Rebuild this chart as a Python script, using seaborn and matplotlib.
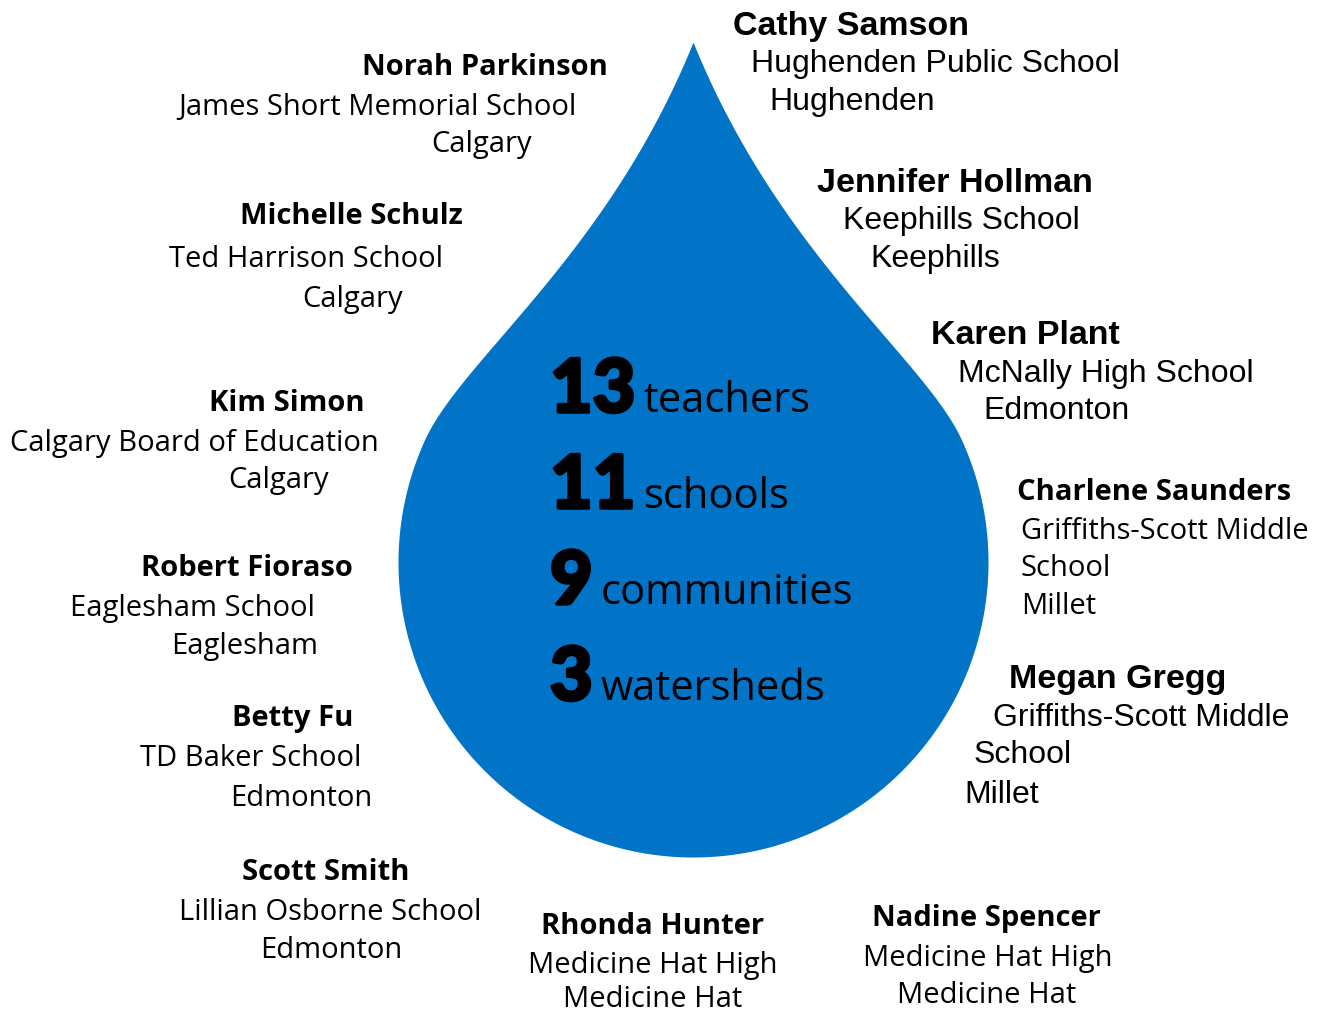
import numpy as np
import matplotlib
matplotlib.use("Agg")
import matplotlib.pyplot as plt
import matplotlib.patheffects as pe
from matplotlib import font_manager as fm
import seaborn as sns

# Headline counts shown inside the drop
counts = [13, 11, 9, 3]
count_labels = ["teachers", "schools", "communities", "watersheds"]

# Teachers, their schools and communities
names = ["Norah Parkinson", "Michelle Schulz", "Kim Simon", "Robert Fioraso",
         "Betty Fu", "Scott Smith", "Rhonda Hunter", "Nadine Spencer",
         "Cathy Samson", "Jennifer Hollman", "Karen Plant",
         "Charlene Saunders", "Megan Gregg"]
schools = ["James Short Memorial School", "Ted Harrison School",
           "Calgary Board of Education", "Eaglesham School", "TD Baker School",
           "Lillian Osborne School", "Medicine Hat High", "Medicine Hat High",
           "Hughenden Public School", "Keephills School", "McNally High School",
           "Griffiths-Scott Middle\nSchool", "Griffiths-Scott Middle\nSchool"]
towns = ["Calgary", "Calgary", "Calgary", "Eaglesham", "Edmonton", "Edmonton",
         "Medicine Hat", "Medicine Hat", "Hughenden", "Keephills", "Edmonton",
         "Millet", "Millet"]

# Layout (pixel coords, y downwards): name position, then x/baseline of each following line
name_pos = [(362, 75), (240, 224), (209, 411), (141, 576), (232, 726), (242, 880),
            (541, 934), (872, 926), (733, 35), (817, 192), (931, 344),
            (1017, 500), (1009, 688)]
line_pos = [[(178, 115), (431, 152)],
            [(169, 267), (302, 307)],
            [(10, 451), (228, 488)],
            [(70, 616), (171, 654)],
            [(140, 766), (230, 806)],
            [(179, 920), (260, 958)],
            [(528, 973), (563, 1007)],
            [(863, 966), (897, 1003)],
            [(751, 72), (769, 110)],
            [(843, 229), (870, 267)],
            [(958, 382), (983, 419)],
            [(1021, 539), (1021, 576), (1021, 614)],
            [(993, 726), (974, 763), (964, 803)]]
font_style = ["open"] * 8 + ["arial"] * 3 + ["open", "arial"]

sns.set_theme(style="white")
plt.rcParams["font.family"] = ["Open Sans", "DejaVu Sans"]


def heaviest_font():
    # pick the heaviest upright face among a few installed sans families
    pref = ["Lato", "Inter", "Roboto", "Open Sans", "Noto Sans"]
    best = None
    for f in fm.fontManager.ttflist:
        if f.name not in pref or f.style != "normal":
            continue
        w = f.weight if isinstance(f.weight, int) else fm.weight_dict.get(f.weight, 400)
        key = (w, -pref.index(f.name))
        if best is None or key > best[0]:
            best = (key, f.fname)
    if best is None:
        return fm.FontProperties(family="DejaVu Sans", weight="bold")
    return fm.FontProperties(fname=best[1])


def drop_outline(cx, cy, R, tip, join_y, beta, k1, k2):
    # bezier side from the tip, joined tangentially to a circular bottom
    th = np.arccos((cy - join_y) / R)
    p0 = np.array([0.0, tip])
    p3 = np.array([R * np.sin(th), join_y])
    d3 = np.array([np.cos(th), np.sin(th)])
    p1 = p0 + k1 * np.array([np.sin(np.radians(beta)), np.cos(np.radians(beta))])
    p2 = p3 - k2 * d3
    t = np.linspace(0, 1, 300)[:, None]
    bez = ((1 - t) ** 3) * p0 + 3 * ((1 - t) ** 2) * t * p1 + 3 * (1 - t) * t ** 2 * p2 + t ** 3 * p3
    ang = np.linspace(th, np.pi, 300)[1:]
    hw = np.concatenate([bez[:, 0], R * np.sin(ang)])
    ys = np.concatenate([bez[:, 1], cy - R * np.cos(ang)])
    return ys, hw


W, H = 1323, 1013
fig = plt.figure(figsize=(W / 100, H / 100), dpi=100)
ax = fig.add_axes([0, 0, 1, 1])
ax.set_xlim(0, W)
ax.set_ylim(H, 0)
ax.axis("off")

# Water drop
cx = 693
ys, hw = drop_outline(cx, 562, 295, 42, 440, 22, 230, 90)
ax.fill_betweenx(ys, cx - hw, cx + hw, color="#0274C8", lw=0)

# Counts
num_font = heaviest_font()
num_font.set_size(53)
row_base = [412, 508, 604, 700]
renderer = fig.canvas.get_renderer()
inv = ax.transData.inverted()
for n, lab, yb in zip(counts, count_labels, row_base):
    t = ax.text(550, yb, str(n), fontproperties=num_font,
                ha="left", va="baseline", color="black",
                path_effects=[pe.withStroke(linewidth=2.5, foreground="black")])
    bb = t.get_window_extent(renderer)
    right = inv.transform((bb.x1, bb.y0))[0]
    ax.text(right + 8, yb, lab, fontsize=30, family=["Open Sans", "DejaVu Sans"],
            ha="left", va="baseline", color="black")

fonts = {"open": (["Open Sans", "DejaVu Sans"], 21, 21),
         "arial": (["Liberation Sans", "DejaVu Sans"], 24.5, 23)}

for i, name in enumerate(names):
    fam, nsize, lsize = fonts[font_style[i]]
    x, y = name_pos[i]
    ax.text(x, y, name, fontsize=nsize, fontweight="bold", family=fam,
            ha="left", va="baseline", color="black")
    lines = schools[i].split("\n") + [towns[i]]
    for txt, (lx, ly) in zip(lines, line_pos[i]):
        ax.text(lx, ly, txt, fontsize=lsize, family=fam,
                ha="left", va="baseline", color="black")

fig.savefig("out.png", dpi=100, facecolor="white")
